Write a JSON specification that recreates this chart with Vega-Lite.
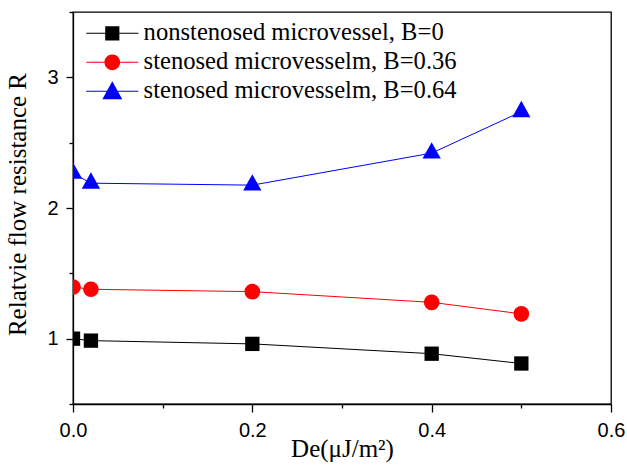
{
  "$schema": "https://vega.github.io/schema/vega-lite/v6.json",
  "width": 538,
  "height": 392,
  "autosize": {"type": "none"},
  "padding": {"left": 73, "top": 12, "right": 16, "bottom": 68},
  "background": "white",
  "config": {
    "view": {"stroke": "black", "strokeWidth": 1.3},
    "axis": {
      "grid": false,
      "labelFlush": false,
      "labelOverlap": false,
      "domainColor": "black",
      "domainWidth": 1.3,
      "tickColor": "black",
      "tickWidth": 1.3,
      "labelColor": "black",
      "labelFont": "Liberation Sans",
      "labelFontSize": 20,
      "titleColor": "black",
      "titleFont": "Liberation Serif",
      "titleFontSize": 25,
      "titleFontWeight": "normal"
    },
    "legend": {
      "padding": 0,
      "symbolSize": 576,
      "symbolStrokeWidth": 0,
      "symbolOpacity": 1,
      "labelFont": "Liberation Serif",
      "labelFontSize": 24.6,
      "labelColor": "black",
      "labelOffset": 19,
      "rowPadding": 4,
      "labelLimit": 500
    }
  },
  "data": {
    "values": [
      {"series": "nonstenosed microvessel, B=0", "De": 0.0, "R": 1.0},
      {"series": "nonstenosed microvessel, B=0", "De": 0.02, "R": 0.985},
      {"series": "nonstenosed microvessel, B=0", "De": 0.2, "R": 0.96},
      {"series": "nonstenosed microvessel, B=0", "De": 0.4, "R": 0.885},
      {"series": "nonstenosed microvessel, B=0", "De": 0.5, "R": 0.81},
      {"series": "stenosed microvesselm, B=0.36", "De": 0.0, "R": 1.395},
      {"series": "stenosed microvesselm, B=0.36", "De": 0.02, "R": 1.378},
      {"series": "stenosed microvesselm, B=0.36", "De": 0.2, "R": 1.36},
      {"series": "stenosed microvesselm, B=0.36", "De": 0.4, "R": 1.278},
      {"series": "stenosed microvesselm, B=0.36", "De": 0.5, "R": 1.19},
      {"series": "stenosed microvesselm, B=0.64", "De": 0.0, "R": 2.265},
      {"series": "stenosed microvesselm, B=0.64", "De": 0.02, "R": 2.19},
      {"series": "stenosed microvesselm, B=0.64", "De": 0.2, "R": 2.175},
      {"series": "stenosed microvesselm, B=0.64", "De": 0.4, "R": 2.42},
      {"series": "stenosed microvesselm, B=0.64", "De": 0.5, "R": 2.737}
    ]
  },
  "layer": [
    {
      "mark": {"type": "line", "strokeWidth": 1, "clip": true},
      "encoding": {
        "x": {"field": "De", "type": "quantitative", "scale": {"domain": [0, 0.6], "nice": false, "zero": false},
          "axis": {"values": [0, 0.1, 0.2, 0.3, 0.4, 0.5, 0.6],
            "labelExpr": "round(datum.value * 10) % 2 == 0 ? format(datum.value, '.1f') : ''",
            "tickSize": {"condition": {"test": "round(datum.value * 10) % 2 == 0", "value": 8}, "value": 4},
            "labelPadding": 8, "title": "De(μJ/m²)", "titlePadding": -4, "orient": "bottom"}},
        "y": {"field": "R", "type": "quantitative", "scale": {"domain": [0.5, 3.5], "nice": false, "zero": false},
          "axis": {"values": [0.5, 1, 1.5, 2, 2.5, 3, 3.5],
            "labelExpr": "round(datum.value * 2) % 2 == 0 ? format(datum.value, 'd') : ''",
            "tickSize": {"condition": {"test": "round(datum.value * 2) % 2 == 0", "value": 7}, "value": 4},
            "labelPadding": 8, "title": "Relatvie flow resistance R", "titlePadding": 16, "titleY": 192, "orient": "left"}},
        "detail": {"field": "series", "type": "nominal"},
        "color": {"field": "series", "type": "nominal",
          "scale": {"domain": ["nonstenosed microvessel, B=0", "stenosed microvesselm, B=0.36", "stenosed microvesselm, B=0.64"], "range": ["#000000", "#FF0000", "#0000FF"]},
          "legend": {"title": null, "orient": "none", "legendX": 27, "legendY": 9}}
      }
    },
    {
      "transform": [{"filter": "datum.series == 'nonstenosed microvessel, B=0'"}],
      "mark": {"type": "point", "filled": true, "shape": "square", "size": 205, "color": "#000000", "opacity": 1, "strokeWidth": 0, "clip": true},
      "encoding": {
        "x": {"field": "De", "type": "quantitative"},
        "y": {"field": "R", "type": "quantitative"}
      }
    },
    {
      "transform": [{"filter": "datum.series == 'stenosed microvesselm, B=0.36'"}],
      "mark": {"type": "point", "filled": true, "shape": "circle", "size": 246, "color": "#FF0000", "opacity": 1, "strokeWidth": 0, "clip": true},
      "encoding": {
        "x": {"field": "De", "type": "quantitative"},
        "y": {"field": "R", "type": "quantitative"}
      }
    },
    {
      "transform": [{"filter": "datum.series == 'stenosed microvesselm, B=0.64'"}],
      "mark": {"type": "point", "filled": true, "shape": "M0,-1.2L1,0.6L-1,0.6Z", "size": 335, "color": "#0000FF", "opacity": 1, "strokeWidth": 0, "clip": true},
      "encoding": {
        "x": {"field": "De", "type": "quantitative"},
        "y": {"field": "R", "type": "quantitative"}
      }
    },
    {
      "mark": {"type": "point", "filled": true, "opacity": 0, "strokeWidth": 0, "size": 1},
      "encoding": {
        "x": {"field": "De", "type": "quantitative"},
        "y": {"field": "R", "type": "quantitative"},
        "color": {"field": "series", "type": "nominal", "legend": {"title": null, "orient": "none", "legendX": 27, "legendY": 9}},
        "shape": {"field": "series", "type": "nominal",
          "scale": {"domain": ["nonstenosed microvessel, B=0", "stenosed microvesselm, B=0.36", "stenosed microvesselm, B=0.64"],
            "range": [
              "M-2.17,-0.045H-0.59V0.045H-2.17Z M-0.59,-0.59H0.59V0.59H-0.59Z M0.59,-0.045H2.17V0.045H0.59Z",
              "M-2.17,-0.045H-0.654V0.045H-2.17Z M-0.654,0C-0.654,-0.361 -0.361,-0.654 0,-0.654C0.361,-0.654 0.654,-0.361 0.654,0C0.654,0.361 0.361,0.654 0,0.654C-0.361,0.654 -0.654,0.361 -0.654,0Z M0.654,-0.045H2.17V0.045H0.654Z",
              "M-2.17,-0.045H-0.46V0.045H-2.17Z M0,-0.83L0.83,0.67L-0.83,0.67Z M0.46,-0.045H2.17V0.045H0.46Z"
            ]},
          "legend": {"title": null, "orient": "none", "legendX": 27, "legendY": 9}}
      }
    }
  ]
}
